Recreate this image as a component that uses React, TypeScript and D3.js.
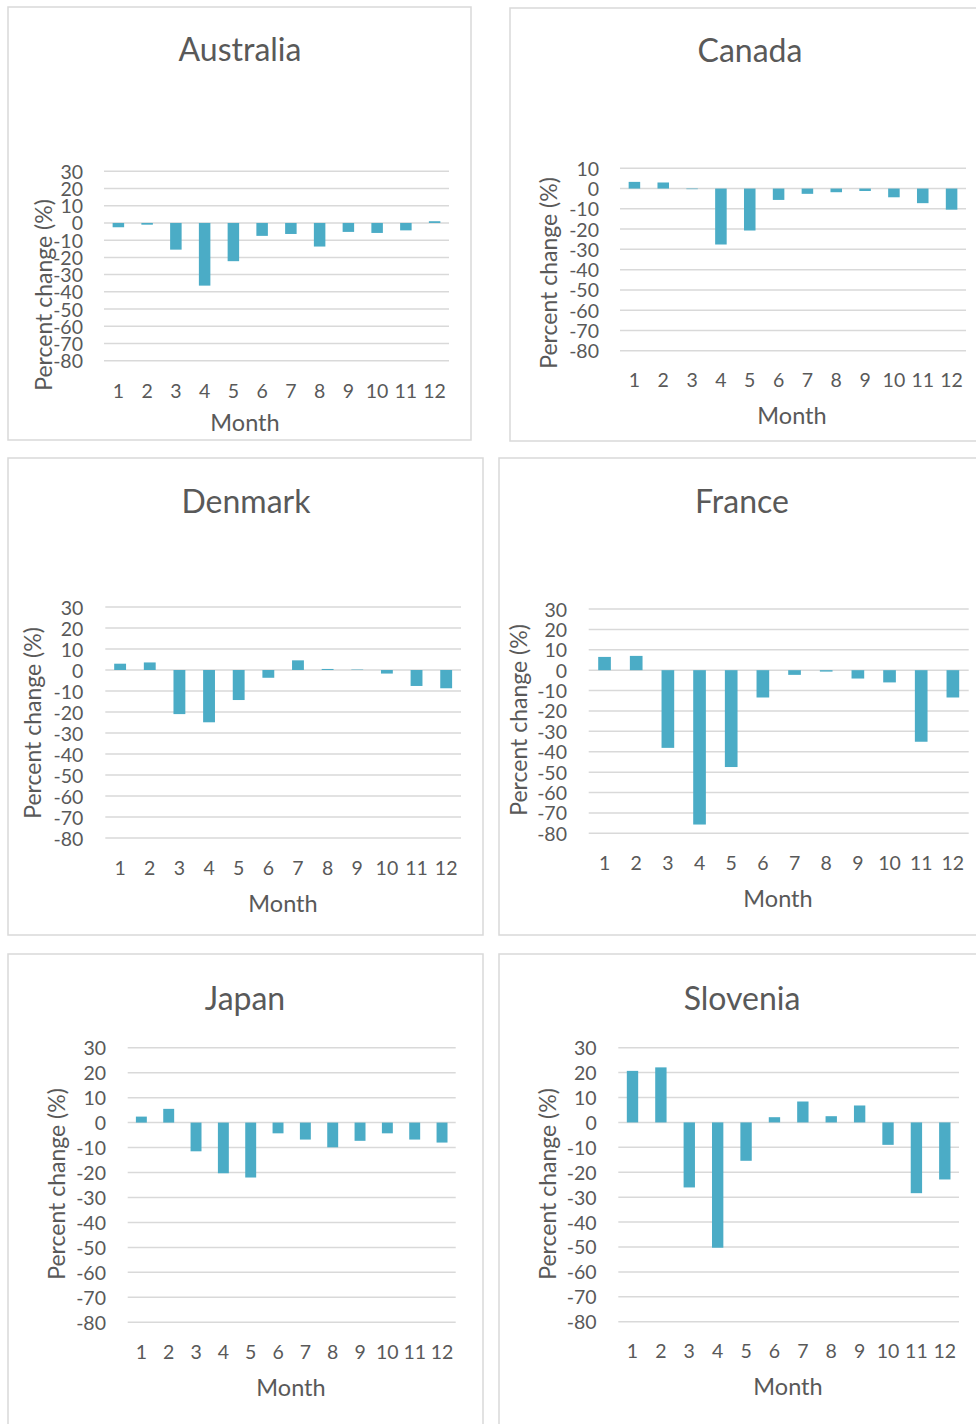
import React from "react";
import * as d3 from "d3";

// Month numbers along the category axis
const months = ["1", "2", "3", "4", "5", "6", "7", "8", "9", "10", "11", "12"];

// Year-over-year percent change by month, per country
const australia = [-2.5, -1.0, -15.5, -36.4, -22.2, -7.5, -6.4, -13.7, -5.2, -5.8, -4.3, 1.0];
const canada = [3.3, 3.0, -0.3, -27.6, -20.7, -5.6, -2.6, -1.8, -1.2, -4.3, -7.2, -10.4];
const denmark = [3.0, 3.6, -21.0, -24.9, -14.3, -3.7, 4.6, 0.5, 0.2, -1.7, -7.6, -8.7];
const france = [6.5, 7.0, -38.1, -75.7, -47.5, -13.4, -2.3, -0.7, -4.1, -6.0, -35.1, -13.4];
const japan = [2.4, 5.5, -11.5, -20.3, -22.0, -4.3, -6.8, -9.9, -7.3, -4.3, -6.8, -8.0];
const slovenia = [20.7, 22.1, -26.1, -50.3, -15.4, 2.1, 8.4, 2.5, 6.8, -9.0, -28.4, -22.9];

// Value-axis ticks
const ticksWide = [30, 20, 10, 0, -10, -20, -30, -40, -50, -60, -70, -80];
const ticksNarrow = [10, 0, -10, -20, -30, -40, -50, -60, -70, -80];

const yTitle = "Percent change (%)";
const xTitle = "Month";

type Frame = {
  box: [number, number, number, number];
  plot: [number, number, number, number]; // x0, x1, yTop, yBottom
  yLabelX: number;
  yTitlePos: [number, number];
  xLabelY: number;
  monthPos: [number, number];
  titlePos: [number, number];
};

const panels: { name: string; values: number[]; ticks: number[]; f: Frame }[] = [
  {
    name: "Australia", values: australia, ticks: ticksWide,
    f: { box: [8, 7, 463, 433], plot: [104, 449, 171.3, 360.7], yLabelX: 83, yTitlePos: [43, 295], xLabelY: 390, monthPos: [245, 422], titlePos: [240, 48] },
  },
  {
    name: "Canada", values: canada, ticks: ticksNarrow,
    f: { box: [510, 8, 470, 433], plot: [620, 966, 168.3, 350.7], yLabelX: 599, yTitlePos: [548, 273], xLabelY: 379, monthPos: [792, 415], titlePos: [750, 49] },
  },
  {
    name: "Denmark", values: denmark, ticks: ticksWide,
    f: { box: [8, 458, 475, 477], plot: [105.3, 461, 607, 838], yLabelX: 83.3, yTitlePos: [32, 723], xLabelY: 867, monthPos: [283, 903], titlePos: [246, 500] },
  },
  {
    name: "France", values: france, ticks: ticksWide,
    f: { box: [499, 458, 480, 477], plot: [588.7, 968.7, 609, 833.3], yLabelX: 567, yTitlePos: [518, 720], xLabelY: 862, monthPos: [778, 898], titlePos: [742, 500] },
  },
  {
    name: "Japan", values: japan, ticks: ticksWide,
    f: { box: [8, 954, 475, 480], plot: [127.7, 455.7, 1047.7, 1322.3], yLabelX: 106, yTitlePos: [56, 1184], xLabelY: 1351, monthPos: [291, 1387], titlePos: [245, 997] },
  },
  {
    name: "Slovenia", values: slovenia, ticks: ticksWide,
    f: { box: [499, 954, 480, 480], plot: [618.3, 959, 1047.7, 1321.7], yLabelX: 596.7, yTitlePos: [547, 1184], xLabelY: 1350, monthPos: [788, 1386], titlePos: [742, 997] },
  },
];

const FONT = "Lato, 'Open Sans', sans-serif";
const TEXT = "#595959";
const GRID = "#d9d9d9";
const BAR = "#4bacc6";

function Panel({ name, values, ticks, f }: { name: string; values: number[]; ticks: number[]; f: Frame }) {
  const [bx, by, bw, bh] = f.box;
  const [x0, x1, yTop, yBot] = f.plot;
  const x = d3.scaleBand<string>().domain(months).range([x0, x1]).paddingInner(0.6).paddingOuter(0.3);
  const y = d3.scaleLinear().domain([ticks[ticks.length - 1], ticks[0]]).range([yBot, yTop]);
  return (
    <g>
      <rect x={bx} y={by} width={bw} height={bh} fill="#fff" stroke={GRID} strokeWidth={1.5} />
      <text x={f.titlePos[0]} y={f.titlePos[1]} textAnchor="middle" dominantBaseline="central" fontSize={32} fill={TEXT} fontFamily={FONT}>
        {name}
      </text>
      {ticks.map((t) => (
        <line key={"g" + t} x1={x0} x2={x1} y1={y(t)} y2={y(t)} stroke={GRID} strokeWidth={1.5} />
      ))}
      {ticks.map((t) => (
        <text key={"t" + t} x={f.yLabelX} y={y(t)} textAnchor="end" dominantBaseline="central" fontSize={19.5} fill={TEXT} fontFamily={FONT}>
          {t}
        </text>
      ))}
      {values.map((v, i) => (
        <rect
          key={"b" + i}
          x={x(months[i])}
          width={x.bandwidth()}
          y={Math.min(y(v), y(0))}
          height={Math.abs(y(v) - y(0))}
          fill={BAR}
        />
      ))}
      {months.map((m) => (
        <text key={"m" + m} x={(x(m) as number) + x.bandwidth() / 2} y={f.xLabelY} textAnchor="middle" dominantBaseline="central" fontSize={19.5} fill={TEXT} fontFamily={FONT}>
          {m}
        </text>
      ))}
      <text x={f.monthPos[0]} y={f.monthPos[1]} textAnchor="middle" dominantBaseline="central" fontSize={23.5} fill={TEXT} fontFamily={FONT}>
        {xTitle}
      </text>
      <text
        transform={`translate(${f.yTitlePos[0]},${f.yTitlePos[1]}) rotate(-90)`}
        textAnchor="middle"
        dominantBaseline="central"
        fontSize={23}
        fill={TEXT}
        fontFamily={FONT}
      >
        {yTitle}
      </text>
    </g>
  );
}

export default function App() {
  return (
    <svg width={976} height={1424} style={{ position: "absolute", left: 0, top: 0, background: "#fff" }}>
      <rect x={0} y={0} width={976} height={1424} fill="#fff" />
      {panels.map((p) => (
        <Panel key={p.name} {...p} />
      ))}
    </svg>
  );
}
